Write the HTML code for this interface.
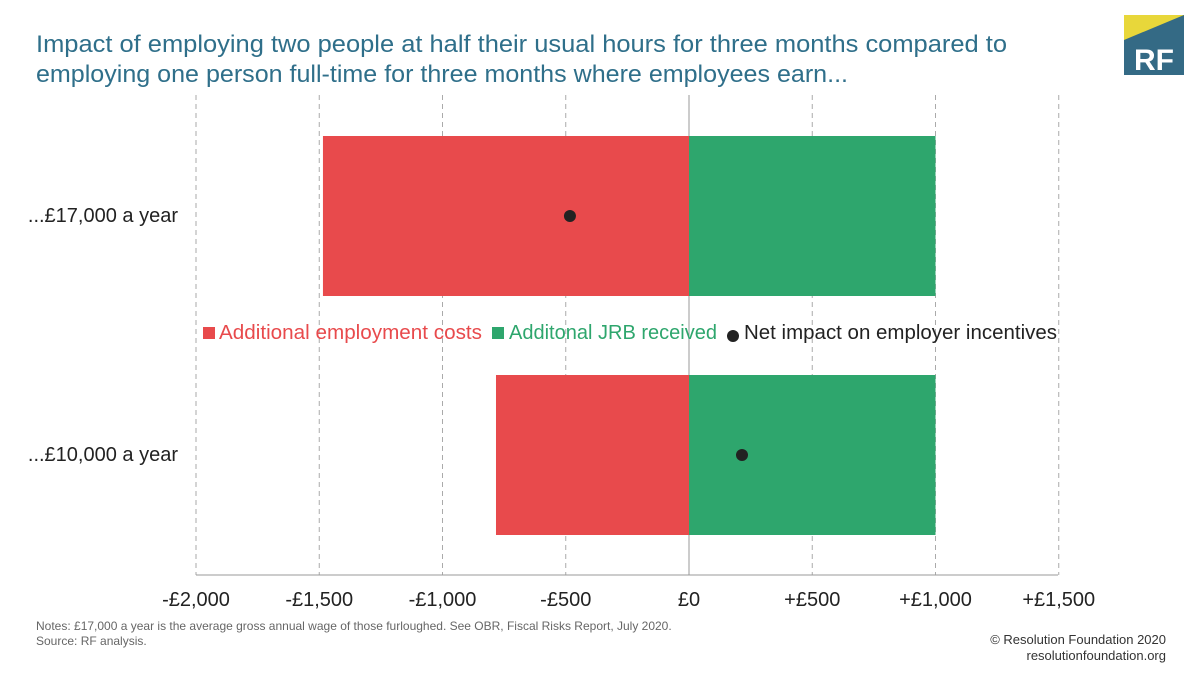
<!DOCTYPE html>
<html><head><meta charset="utf-8"><style>
body{margin:0;background:#fff;font-family:"Liberation Sans",sans-serif}
svg{display:block}
</style></head><body>
<svg width="1200" height="675" xmlns="http://www.w3.org/2000/svg">
<text x="36" y="52" font-size="24" fill="#2f6f8a" textLength="971" lengthAdjust="spacingAndGlyphs">Impact of employing two people at half their usual hours for three months compared to</text>
<text x="36" y="82" font-size="24" fill="#2f6f8a" textLength="812" lengthAdjust="spacingAndGlyphs">employing one person full-time for three months where employees earn...</text>
<g>
<rect x="1124" y="15" width="60" height="60" fill="#346a85"/>
<polygon points="1124,15 1184,15 1124,40" fill="#e8d73a"/>
<text x="1154" y="70" font-size="30" font-weight="bold" fill="#fff" text-anchor="middle">RF</text>
</g>
<g id="grid"></g>
<g id="bars"></g>
<g id="labels"></g>
<g font-size="20">
<rect x="203" y="327" width="12" height="12" fill="#e84a4c"/>
<text x="219" y="339" fill="#e84a4c" textLength="263" lengthAdjust="spacingAndGlyphs">Additional employment costs</text>
<rect x="492" y="327" width="12" height="12" fill="#2ea66d"/>
<text x="509" y="339" fill="#2ea66d" textLength="208" lengthAdjust="spacingAndGlyphs">Additonal JRB received</text>
<circle cx="733" cy="336" r="6" fill="#222"/>
<text x="744" y="339" fill="#222" textLength="313" lengthAdjust="spacingAndGlyphs">Net impact on employer incentives</text>
</g>
<text x="36" y="630" font-size="12" fill="#666">Notes: £17,000 a year is the average gross annual wage of those furloughed. See OBR, Fiscal Risks Report, July 2020.</text>
<text x="36" y="645" font-size="12" fill="#666">Source: RF analysis.</text>
<text x="1166" y="644" font-size="13" fill="#333" text-anchor="end">© Resolution Foundation 2020</text>
<text x="1166" y="660" font-size="13" fill="#333" text-anchor="end">resolutionfoundation.org</text>
</svg>
<script>
const categories=["...£17,000 a year","...£10,000 a year"];
const costs=[-1485,-783];
const jrb=[1000,1000];
const net=[-483,215];
const ticks=[-2000,-1500,-1000,-500,0,500,1000,1500];
const tickLabels=["-£2,000","-£1,500","-£1,000","-£500","£0","+£500","+£1,000","+£1,500"];
const NS="http://www.w3.org/2000/svg";
const x=v=>689+v*0.2465;
const bandTop=[136,375], bandH=160;
function mk(t,a,p){const e=document.createElementNS(NS,t);for(const k in a)e.setAttribute(k,a[k]);p.appendChild(e);return e;}
const g=document.getElementById('grid'),b=document.getElementById('bars'),l=document.getElementById('labels');
ticks.forEach((t,i)=>{
 const ln=mk('line',{x1:x(t),x2:x(t),y1:95,y2:575,stroke:t===0?'#999':'#aaa','stroke-dasharray':t===0?'':'5,4','stroke-width':1},g);
 
 
 const tx=mk('text',{x:x(t),y:606,'font-size':20,fill:'#222','text-anchor':'middle'},l);
 tx.textContent=tickLabels[i];
 
 
});
const ax=mk('line',{x1:196,x2:1058,y1:575,y2:575,stroke:'#999'},g);


categories.forEach((c,i)=>{
 const y0=bandTop[i];
 const r=mk('rect',{x:x(costs[i]),y:y0,width:x(0)-x(costs[i]),height:bandH,fill:'#e84a4c'},b);
 
 
 const gr=mk('rect',{x:x(0),y:y0,width:x(jrb[i])-x(0),height:bandH,fill:'#2ea66d'},b);
 
 
 const d=mk('circle',{cx:x(net[i]),cy:y0+bandH/2,r:6,fill:'#222'},b);
 
 
 const t=mk('text',{x:178,y:y0+bandH/2+6,'font-size':20,fill:'#222','text-anchor':'end'},l);
 t.textContent=c;
 
 
});
</script>
</body></html>
